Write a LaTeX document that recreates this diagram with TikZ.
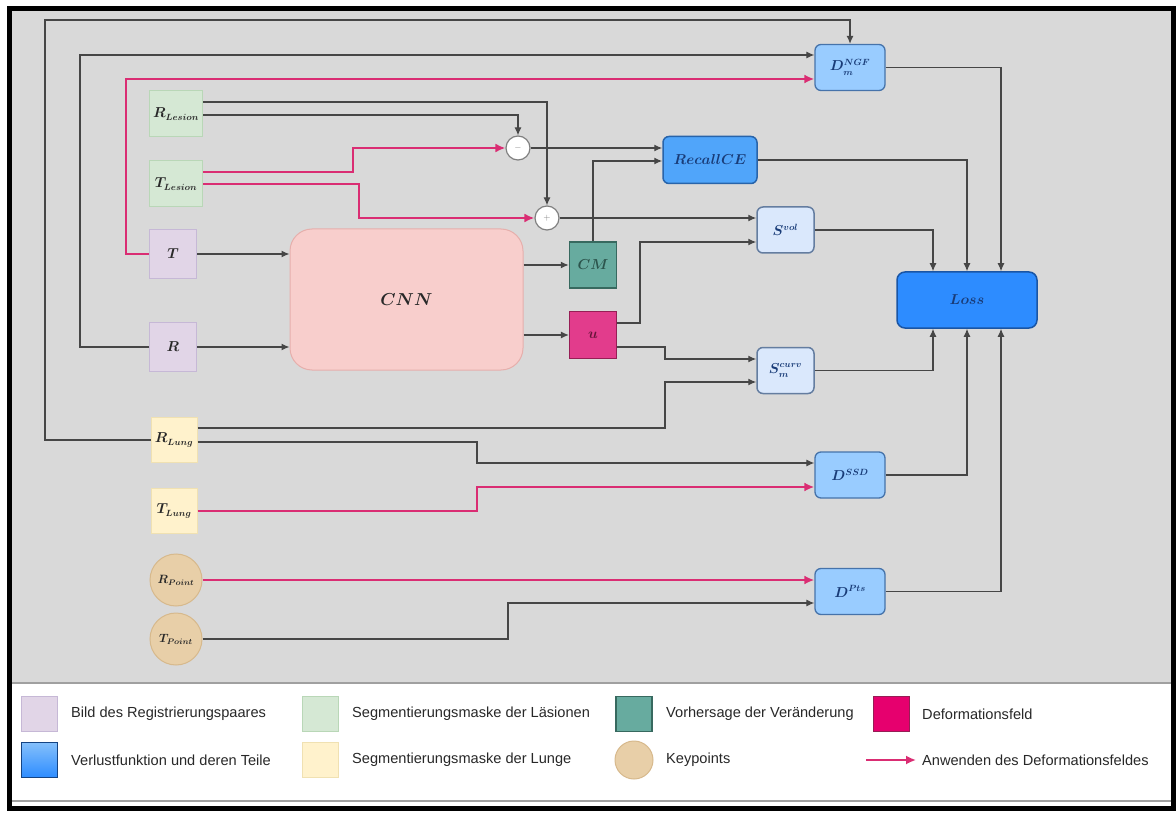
\documentclass[tikz,border=0pt]{standalone}
\usepackage{fontspec}
\setmainfont{Liberation Sans}
\usetikzlibrary{arrows.meta,calc}
\definecolor{bg}{RGB}{217,217,217}
\definecolor{purf}{RGB}{225,213,231}
\definecolor{purd}{RGB}{198,184,214}
\definecolor{grnf}{RGB}{213,232,212}
\definecolor{grnd}{RGB}{185,215,183}
\definecolor{yelf}{RGB}{255,242,204}
\definecolor{yeld}{RGB}{240,225,178}
\definecolor{kpf}{RGB}{232,207,168}
\definecolor{kpd}{RGB}{215,185,140}
\definecolor{cnnf}{RGB}{248,206,204}
\definecolor{cnnd}{RGB}{230,175,172}
\definecolor{cmf}{RGB}{103,171,159}
\definecolor{cmd}{RGB}{55,105,95}
\definecolor{uf}{RGB}{226,60,140}
\definecolor{ud}{RGB}{150,30,85}
\definecolor{deff}{RGB}{230,0,110}
\definecolor{rcf}{RGB}{80,165,250}
\definecolor{rcd}{RGB}{40,100,170}
\definecolor{lossf}{RGB}{45,140,255}
\definecolor{lossd}{RGB}{25,85,165}
\definecolor{sf}{RGB}{218,232,252}
\definecolor{sd}{RGB}{100,125,160}
\definecolor{df}{RGB}{153,204,255}
\definecolor{dd}{RGB}{70,115,170}
\definecolor{linec}{RGB}{70,70,70}
\definecolor{pinkc}{RGB}{218,45,115}
\definecolor{txtblue}{RGB}{25,60,120}
\definecolor{txtdark}{RGB}{40,40,40}
\definecolor{legline}{RGB}{160,160,160}
\tikzset{
  x=1pt, y=-1pt,
  base/.style={inner sep=0pt, font=\fontsize{13.5}{15}\selectfont\boldmath, line width=1pt},
  purp/.style={base, rectangle, fill=purf, draw=purd, minimum width=47, minimum height=49, text=txtdark},
  grn/.style={base, rectangle, fill=grnf, draw=grnd, minimum width=53, minimum height=46, text=txtdark},
  yel/.style={base, rectangle, fill=yelf, draw=yeld, minimum width=46, minimum height=45, text=txtdark},
  kp/.style={base, circle, fill=kpf, draw=kpd, minimum size=52, font=\fontsize{11.5}{13}\selectfont\boldmath, text=txtdark},
  cnnbox/.style={base, rectangle, rounded corners=22, fill=cnnf, draw=cnnd, minimum width=233, minimum height=141, font=\fontsize{17}{19}\selectfont\boldmath, text=txtdark},
  cmbox/.style={base, rectangle, fill=cmf, draw=cmd, line width=1.5pt, minimum width=47, minimum height=46, text=cmd!80!black},
  ubox/.style={base, rectangle, fill=uf, draw=ud, line width=1.2pt, minimum width=47, minimum height=47, text=ud!70!black},
  opc/.style={base, circle, fill=white, draw=gray, line width=1.2pt, minimum size=24, font=\fontsize{9}{10}\selectfont, text=gray},
  rcbox/.style={base, rectangle, rounded corners=6, fill=rcf, draw=rcd, line width=1.5pt, minimum width=94, minimum height=47, text=txtblue},
  lossbox/.style={base, rectangle, rounded corners=8, fill=lossf, draw=lossd, line width=1.5pt, minimum width=140, minimum height=56, text=txtblue},
  sbox/.style={base, rectangle, rounded corners=6, fill=sf, draw=sd, line width=1.5pt, minimum width=57, minimum height=46, text=txtblue},
  dbox/.style={base, rectangle, rounded corners=6, fill=df, draw=dd, line width=1.3pt, minimum width=70, minimum height=46, text=txtblue},
  ln/.style={draw=linec, line width=1.2pt, -{Latex[length=8pt,width=7pt]}},
  pk/.style={draw=pinkc, line width=2.4pt, -{Latex[length=10pt,width=9pt]}},
  lgsw/.style={rectangle, minimum width=36, minimum height=35, line width=1pt, inner sep=0pt},
  lgtxt/.style={anchor=west, inner sep=0pt, font=\fontsize{14.6}{16}\selectfont, text=txtdark},
}
\begin{document}
\begin{tikzpicture}
% background and frames
\fill[white] (0,0) rectangle (1176,813);
\fill[bg] (12,11) rectangle (1171,683);
\draw[legline, line width=2pt] (12,683) -- (1171,683);
\draw[legline, line width=2pt] (12,801) -- (1171,801);
\draw[black, line width=5pt] (9.5,8.5) rectangle (1173.5,808);
\useasboundingbox (0,0) rectangle (1176,813);

% input nodes
\node[grn] (RL) at (176,114) {$R_{Lesion}$};
\node[grn] (TL) at (176,184) {$T_{Lesion}$};
\node[purp] (T) at (173,254) {$T$};
\node[purp] (R) at (173,347) {$R$};
\node[yel] (RLu) at (174,440) {$R_{Lung}$};
\node[yel] (TLu) at (174,511) {$T_{Lung}$};
\node[kp] (RP) at (176,580) {$R_{Point}$};
\node[kp] (TP) at (176,639) {$T_{Point}$};

% processing nodes
\node[cnnbox] (CNN) at (406.5,299.5) {$CNN$};
\node[cmbox] (CM) at (593,265) {$CM$};
\node[ubox] (U) at (593,335) {$u$};
\node[opc] (Minus) at (518,148) {$-$};
\node[opc] (Plus) at (547,218) {$+$};

% loss parts
\node[rcbox] (RC) at (710,160) {$RecallCE$};
\node[sbox] (Svol) at (785.5,230) {$S^{vol}$};
\node[sbox] (Scurv) at (785.5,370.5) {$S^{curv}_{m}$};
\node[dbox] (DNGF) at (850,67.5) {$D^{NGF}_{m}$};
\node[dbox] (DSSD) at (850,475) {$D^{SSD}$};
\node[dbox] (DPts) at (850,591.5) {$D^{Pts}$};
\node[lossbox] (Loss) at (967,300) {$Loss$};

% connectors to D_m^NGF
\draw[ln] (RLu.west) -| (45,20) -| (DNGF.north);
\draw[ln] (R.west) -| (80,55) -- (DNGF.west |- 0,55);
\draw[pk] (T.west) -| (126,79) -- (DNGF.west |- 0,79);

% into CNN
\draw[ln] (T.east) -- (CNN.west |- T.east);
\draw[ln] (R.east) -- (CNN.west |- R.east);
\draw[ln] (CNN.east |- CM) -- (CM.west);
\draw[ln] (CNN.east |- U) -- (U.west);

% lesion masks
\draw[ln] (RL.east |- 0,102) -| (Plus.north);
\draw[ln] (RL.east |- 0,115) -| (Minus.north);
\draw[pk] (TL.east |- 0,172) -- (353,172) |- (Minus.west);
\draw[pk] (TL.east |- 0,184) -- (359,184) |- (Plus.west);

\draw[ln] (Minus.east) -- (RC.west |- Minus.east);
\draw[ln] (CM.north) |- (RC.west |- 0,161);
\draw[ln] (Plus.east) -- (Svol.west |- Plus.east);
\draw[ln] (U.east |- 0,323) -| (640,242) -- (Svol.west |- 0,242);
\draw[ln] (U.east |- 0,347) -- (665,347) |- (Scurv.west |- 0,359);

% lung masks
\draw[ln] (RLu.east |- 0,428) -- (665,428) |- (Scurv.west |- 0,382);
\draw[ln] (RLu.east |- 0,442) -- (477,442) |- (DSSD.west |- 0,463);
\draw[pk] (TLu.east) -- (477,511) |- (DSSD.west |- 0,487);

% keypoints
\draw[pk] (RP.east) -- (DPts.west |- RP.east);
\draw[ln] (TP.east) -- (508,639) |- (DPts.west |- 0,603);

% into loss
\draw[ln] (RC.east) -| (Loss.north);
\draw[ln] (Svol.east) -| ([xshift=-34pt]Loss.north);
\draw[ln] (DNGF.east) -| ([xshift=34pt]Loss.north);
\draw[ln] (Scurv.east) -| ([xshift=-34pt]Loss.south);
\draw[ln] (DSSD.east) -| (Loss.south);
\draw[ln] (DPts.east) -| ([xshift=34pt]Loss.south);

% legend
\node[lgsw, fill=purf, draw=purd] (lg1) at (39,714) {};
\node[lgtxt] (lt1) at (71,714) {Bild des Registrierungspaares};
\node[lgsw, top color=rcf!70!white, bottom color=lossf, draw=lossd!80!black] (lg2) at (39,760) {};
\node[lgtxt] (lt2) at (71,760) {Verlustfunktion und deren Teile};
\node[lgsw, fill=grnf, draw=grnd] (lg3) at (320,714) {};
\node[lgtxt] (lt3) at (352,714) {Segmentierungsmaske der Läsionen};
\node[lgsw, fill=yelf, draw=yeld] (lg4) at (320,760) {};
\node[lgtxt] (lt4) at (352,760) {Segmentierungsmaske der Lunge};
\node[lgsw, fill=cmf, draw=cmd, line width=1.5pt] (lg5) at (634,714) {};
\node[lgtxt] (lt5) at (666,714) {Vorhersage der Veränderung};
\node[circle, minimum size=38, inner sep=0pt, fill=kpf, draw=kpd, line width=1pt] (lg6) at (634,760) {};
\node[lgtxt] (lt6) at (666,760) {Keypoints};
\node[lgsw, fill=deff, draw=ud] (lg7) at (891,714) {};
\node[lgtxt] (lt7) at (922,714) {Deformationsfeld};
\coordinate (la) at (866,760);
\coordinate (lb) at (916,760);
\draw[pk, line width=1.8pt] (la) -- (lb);
\node[lgtxt] (lt8) at (922,760) {Anwenden des Deformationsfeldes};
\end{tikzpicture}
\end{document}
